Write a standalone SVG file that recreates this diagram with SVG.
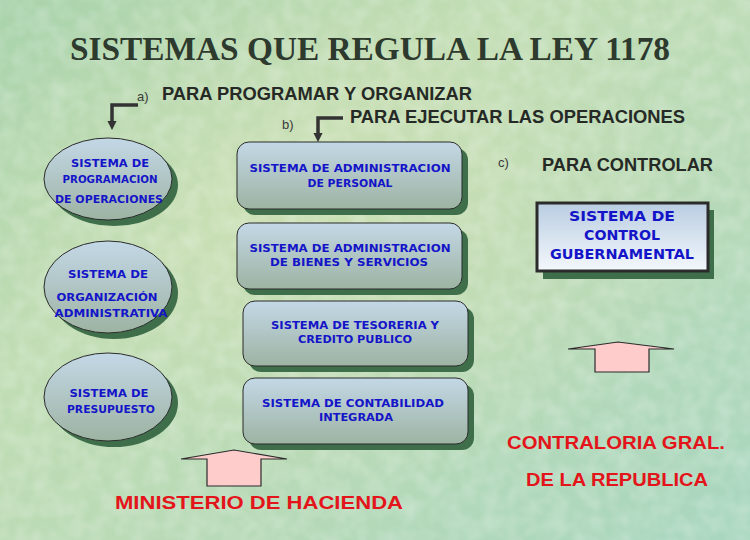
<svg xmlns="http://www.w3.org/2000/svg" width="750" height="540" viewBox="0 0 750 540">
<defs>
<linearGradient id="bg" x1="0" y1="0" x2="1" y2="1">
<stop offset="0" stop-color="#a9d3ac"/>
<stop offset="0.35" stop-color="#c0ddb4"/>
<stop offset="0.6" stop-color="#b9dab6"/>
<stop offset="1" stop-color="#a8d6bf"/>
</linearGradient>
<radialGradient id="glow" cx="0.45" cy="0.4" r="0.5">
<stop offset="0" stop-color="#d8e2b4" stop-opacity="0.5"/>
<stop offset="1" stop-color="#d8e2b4" stop-opacity="0"/>
</radialGradient>
<linearGradient id="nodefill" x1="0" y1="0" x2="0" y2="1">
<stop offset="0" stop-color="#c3d8e6"/>
<stop offset="1" stop-color="#9db3a2"/>
</linearGradient>
<linearGradient id="ctrlfill" x1="0" y1="0" x2="0" y2="1">
<stop offset="0" stop-color="#b9cde2"/>
<stop offset="1" stop-color="#f4f8fc"/>
</linearGradient>
<filter id="tex" x="0" y="0" width="1" height="1">
<feTurbulence type="fractalNoise" baseFrequency="0.06" numOctaves="2" seed="3"/>
<feColorMatrix type="matrix" values="0 0 0 0 1  0 0 0 0 1  0 0 0 0 1  0 0 0 -1.6 1.1"/>
</filter>
<marker id="ah" viewBox="0 0 10 10" refX="0" refY="5" markerWidth="2.6" markerHeight="2.6" orient="auto" markerUnits="strokeWidth">
<path d="M0,0 L10,5 L0,10 Z" fill="#333"/>
</marker>
<style>
.head{font-family:"Liberation Sans","DejaVu Sans",sans-serif;font-weight:bold;fill:#262a26;font-size:18px}
.lbl{font-family:"Liberation Sans","DejaVu Sans",sans-serif;fill:#3a3a3a;font-size:13px}
.blue{font-family:"DejaVu Sans","Liberation Sans",sans-serif;font-weight:bold;fill:#1414c8;font-size:11px;text-anchor:middle}
.ctrl{font-family:"DejaVu Sans","Liberation Sans",sans-serif;font-weight:bold;fill:#1414c8;font-size:14px;text-anchor:middle}
.red{font-family:"Liberation Sans","DejaVu Sans",sans-serif;font-weight:bold;fill:#e3141a;font-size:19px}
.node{fill:url(#nodefill);stroke:#2b2b2b;stroke-width:1}
.shadow{fill:#3f6f4a}
.conn{fill:none;stroke:#333;stroke-width:3.5}
.block{fill:#ffcccc;stroke:#2b2b2b;stroke-width:1.2}
</style>
</defs>
<rect width="750" height="540" fill="url(#bg)"/>
<rect width="750" height="540" fill="url(#glow)"/>
<rect width="750" height="540" filter="url(#tex)" opacity="0.25"/>

<text x="70" y="60" font-family="'Liberation Serif','DejaVu Serif',serif" font-weight="bold" font-size="34" fill="#2d3a2d" textLength="600" lengthAdjust="spacingAndGlyphs">SISTEMAS QUE REGULA LA LEY 1178</text>

<text class="lbl" x="137" y="101">a)</text>
<text class="head" x="162" y="100" textLength="310" lengthAdjust="spacingAndGlyphs">PARA PROGRAMAR Y ORGANIZAR</text>
<text class="lbl" x="282" y="129">b)</text>
<text class="head" x="350" y="123" textLength="335" lengthAdjust="spacingAndGlyphs">PARA EJECUTAR LAS OPERACIONES</text>
<text class="lbl" x="498" y="167">c)</text>
<text class="head" x="542" y="171" textLength="171" lengthAdjust="spacingAndGlyphs">PARA CONTROLAR</text>

<g id="connectors">
<path class="conn" d="M138,105 H112 V121" marker-end="url(#ah)"/>
<path class="conn" d="M343,118 H318 V133" marker-end="url(#ah)"/>
<path class="block" d="M181,459 L234,450 L287,459 L261,459 L261,486 L207,486 L207,459 Z"/>
<path class="block" d="M568,349 L618,342 L674,349 L649,349 L649,372 L595,372 L595,349 Z"/>
</g>

<g id="n-programacion">
<ellipse class="shadow" cx="114" cy="185" rx="64" ry="41"/>
<ellipse class="node" cx="108" cy="179" rx="64" ry="41"/>
<text class="blue" x="110" y="167" textLength="78" lengthAdjust="spacingAndGlyphs">SISTEMA DE</text>
<text class="blue" x="110" y="183" textLength="95" lengthAdjust="spacingAndGlyphs">PROGRAMACION</text>
<text class="blue" x="109" y="203" textLength="108" lengthAdjust="spacingAndGlyphs">DE OPERACIONES</text>
</g>

<g id="n-organizacion">
<ellipse class="shadow" cx="114" cy="293" rx="64" ry="46"/>
<ellipse class="node" cx="108" cy="287" rx="64" ry="46"/>
<text class="blue" x="108" y="278" textLength="80" lengthAdjust="spacingAndGlyphs">SISTEMA DE</text>
<text class="blue" x="107" y="301" textLength="101" lengthAdjust="spacingAndGlyphs">ORGANIZACIÓN</text>
<text class="blue" x="111" y="317" textLength="113" lengthAdjust="spacingAndGlyphs">ADMINISTRATIVA</text>
</g>

<g id="n-presupuesto">
<ellipse class="shadow" cx="114" cy="403" rx="64" ry="44"/>
<ellipse class="node" cx="108" cy="397" rx="64" ry="44"/>
<text class="blue" x="109" y="397" textLength="79" lengthAdjust="spacingAndGlyphs">SISTEMA DE</text>
<text class="blue" x="111" y="413" textLength="88" lengthAdjust="spacingAndGlyphs">PRESUPUESTO</text>
</g>

<g id="n-personal">
<rect class="shadow" x="243" y="148" width="225" height="67" rx="12"/>
<rect class="node" x="237" y="142" width="225" height="67" rx="12"/>
<text class="blue" x="350" y="172" textLength="201" lengthAdjust="spacingAndGlyphs">SISTEMA DE ADMINISTRACION</text>
<text class="blue" x="350" y="187" textLength="85" lengthAdjust="spacingAndGlyphs">DE PERSONAL</text>
</g>

<g id="n-bienes">
<rect class="shadow" x="243" y="229" width="225" height="66" rx="12"/>
<rect class="node" x="237" y="223" width="225" height="66" rx="12"/>
<text class="blue" x="350" y="252" textLength="201" lengthAdjust="spacingAndGlyphs">SISTEMA DE ADMINISTRACION</text>
<text class="blue" x="349" y="266" textLength="158" lengthAdjust="spacingAndGlyphs">DE BIENES Y SERVICIOS</text>
</g>

<g id="n-tesoreria">
<rect class="shadow" x="249" y="307" width="225" height="65" rx="12"/>
<rect class="node" x="243" y="301" width="225" height="65" rx="12"/>
<text class="blue" x="355" y="329" textLength="168" lengthAdjust="spacingAndGlyphs">SISTEMA DE TESORERIA Y</text>
<text class="blue" x="355" y="343" textLength="114" lengthAdjust="spacingAndGlyphs">CREDITO PUBLICO</text>
</g>

<g id="n-contabilidad">
<rect class="shadow" x="249" y="384" width="225" height="66" rx="12"/>
<rect class="node" x="243" y="378" width="225" height="66" rx="12"/>
<text class="blue" x="353" y="407" textLength="182" lengthAdjust="spacingAndGlyphs">SISTEMA DE CONTABILIDAD</text>
<text class="blue" x="356" y="421" textLength="74" lengthAdjust="spacingAndGlyphs">INTEGRADA</text>
</g>

<g id="n-control">
<rect class="shadow" x="543" y="210" width="171" height="69"/>
<rect x="537" y="203" width="171" height="68" fill="url(#ctrlfill)" stroke="#2b2b2b" stroke-width="3"/>
<text class="ctrl" x="622" y="221" textLength="106" lengthAdjust="spacingAndGlyphs">SISTEMA DE</text>
<text class="ctrl" x="622" y="240" textLength="76" lengthAdjust="spacingAndGlyphs">CONTROL</text>
<text class="ctrl" x="622" y="259" textLength="144" lengthAdjust="spacingAndGlyphs">GUBERNAMENTAL</text>
</g>

<g id="n-hacienda">
<text class="red" x="115" y="509" textLength="288" lengthAdjust="spacingAndGlyphs">MINISTERIO DE HACIENDA</text>
</g>

<g id="n-contraloria">
<text class="red" x="507" y="449" textLength="218" lengthAdjust="spacingAndGlyphs">CONTRALORIA GRAL.</text>
<text class="red" x="526" y="486" textLength="182" lengthAdjust="spacingAndGlyphs">DE LA REPUBLICA</text>
</g>
</svg>
